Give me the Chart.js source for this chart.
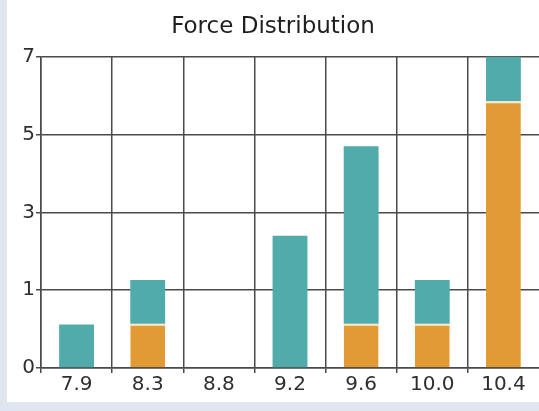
<!DOCTYPE html>
<html>
<head>
<meta charset="utf-8">
<script src="https://cdn.jsdelivr.net/npm/chart.js@4"></script>
<style>
  html, body { margin: 0; padding: 0; background: #fff; }
  #frame {
    position: absolute; left: 0; top: 0;
    width: 532px; height: 402px;
    border-left: 7px solid #dfe6ef;
    border-bottom: 9px solid #dfe6ef;
  }
  #chartBox { position: relative; width: 532px; height: 402px; }
</style>
</head>
<body>
<div id="frame"><div id="chartBox"><canvas id="forceChart"></canvas></div></div>
<script>
// --- DATA ---
const categories = ['7.9', '8.3', '8.8', '9.2', '9.6', '10.0', '10.4'];
const orangeValues = [0, 0.57, 0, 0, 0.57, 0.57, 5.85];
const tealValues = [0.56, 0.69, 0, 2.4, 4.13, 0.69, 1.15];
const yTickValues = [0, 1, 3, 5, 7];

// axis is evenly spaced between the tick labels, so map values onto tick positions
function toAxis(v) {
    for (let i = 1; i < yTickValues.length; i++) {
        const a = yTickValues[i - 1], b = yTickValues[i];
        if (v <= b) return (i - 1) + (v - a) / (b - a);
    }
    return yTickValues.length - 1;
}

const orangeAxis = orangeValues.map(v => toAxis(v));
const tealAxis = tealValues.map((v, i) => toAxis(orangeValues[i] + v) - toAxis(orangeValues[i]));

const GRID = '#4a4a4a';

const ctx = document.getElementById('forceChart').getContext('2d');
new Chart(ctx, {
    type: 'bar',
    data: {
        labels: categories,
        datasets: [
            {
                label: 'Orange',
                data: orangeAxis,
                backgroundColor: '#e29b34',
                borderColor: '#f6ebc8',
                borderWidth: { top: 2, left: 0, right: 0, bottom: 0 },
                borderSkipped: false
            },
            {
                label: 'Teal',
                data: tealAxis,
                backgroundColor: '#52abab',
                borderWidth: 0
            }
        ]
    },
    options: {
        responsive: true,
        maintainAspectRatio: false,
        animation: false,
        layout: { padding: { left: 0, right: 0, top: 0, bottom: 5 } },
        datasets: { bar: { categoryPercentage: 1, barPercentage: 0.49 } },
        plugins: {
            legend: { display: false },
            tooltip: { enabled: false },
            title: {
                display: true,
                text: 'Force Distribution',
                color: '#1e1e1e',
                font: { family: 'DejaVu Sans', size: 23, weight: 'normal' },
                padding: { top: 13, bottom: 16 }
            }
        },
        scales: {
            x: {
                stacked: true,
                grid: {
                    // no line on the far right edge
                    color: c => (c.tick ? GRID : 'rgba(0,0,0,0)'),
                    lineWidth: 1.5,
                    tickLength: 5,
                    offset: true
                },
                border: { color: GRID, width: 1.5 },
                ticks: {
                    color: '#2e2e2e',
                    font: { family: 'DejaVu Sans', size: 20 },
                    padding: 0,
                    maxRotation: 0
                }
            },
            y: {
                stacked: true,
                min: 0,
                max: yTickValues.length - 1,
                afterFit: s => { s.width = 34; },
                grid: { color: GRID, lineWidth: 1.5, tickLength: 5 },
                border: { color: GRID, width: 1.5 },
                ticks: {
                    stepSize: 1,
                    color: '#2e2e2e',
                    font: { family: 'DejaVu Sans', size: 20 },
                    padding: 1,
                    callback: (v, i) => String(yTickValues[i])
                }
            }
        }
    }
});
</script>
</body>
</html>
